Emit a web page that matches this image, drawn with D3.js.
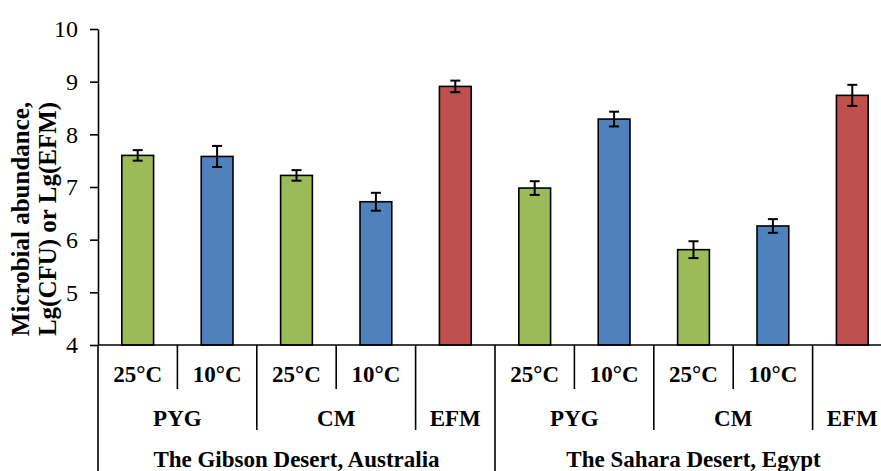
<!DOCTYPE html>
<html>
<head>
<meta charset="utf-8">
<script src="https://cdn.jsdelivr.net/npm/d3@7"></script>
<style>
  body { margin: 0; background: #fff; }
  svg text { font-family: "Liberation Serif", "Times New Roman", serif; }
</style>
</head>
<body>
<script>
// data
var deserts = ["The Gibson Desert, Australia", "The Gibson Desert, Australia", "The Gibson Desert, Australia", "The Gibson Desert, Australia", "The Gibson Desert, Australia",
               "The Sahara Desert, Egypt", "The Sahara Desert, Egypt", "The Sahara Desert, Egypt", "The Sahara Desert, Egypt", "The Sahara Desert, Egypt"];
var media = ["PYG", "PYG", "CM", "CM", "EFM", "PYG", "PYG", "CM", "CM", "EFM"];
var temps = ["25°C", "10°C", "25°C", "10°C", "", "25°C", "10°C", "25°C", "10°C", ""];
var values = [7.60, 7.58, 7.22, 6.72, 8.91, 6.98, 8.29, 5.81, 6.26, 8.74];
var errors = [0.10, 0.20, 0.10, 0.17, 0.11, 0.13, 0.14, 0.16, 0.13, 0.20];
var yTicks = [4, 5, 6, 7, 8, 9, 10];

var width = 881, height = 471;
var plotLeft = 98, plotRight = 892, plotTop = 29, plotBase = 345;

var color = function(i) {
  if (media[i] === "EFM") return "#C0504D";
  return temps[i] === "25°C" ? "#9BBB59" : "#4F81BD";
};

var x = d3.scaleBand()
    .domain(d3.range(values.length))
    .range([plotLeft, plotRight]);

var y = d3.scaleLinear()
    .domain([4, 10])
    .range([plotBase, plotTop]);

var svg = d3.select("body").append("svg")
    .attr("width", width)
    .attr("height", height);

// bars
var barW = x.bandwidth() * 0.4;
svg.append("g").selectAll("rect")
    .data(values)
  .enter().append("rect")
    .attr("x", function(d, i) { return x(i) + x.bandwidth() / 2 - barW / 2; })
    .attr("y", function(d) { return y(d); })
    .attr("width", barW)
    .attr("height", function(d) { return y(4) - y(d); })
    .attr("fill", function(d, i) { return color(i); })
    .attr("stroke", "#000")
    .attr("stroke-width", 1.6);

// error bars
var eb = svg.append("g").attr("stroke", "#000").attr("stroke-width", 2);
values.forEach(function(v, i) {
  var cx = x(i) + x.bandwidth() / 2;
  eb.append("line").attr("x1", cx).attr("x2", cx).attr("y1", y(v + errors[i])).attr("y2", y(v - errors[i]));
  eb.append("line").attr("x1", cx - 5).attr("x2", cx + 5).attr("y1", y(v + errors[i])).attr("y2", y(v + errors[i]));
  eb.append("line").attr("x1", cx - 5).attr("x2", cx + 5).attr("y1", y(v - errors[i])).attr("y2", y(v - errors[i]));
});

// y axis
var yAxis = d3.axisLeft(y)
    .tickValues(yTicks)
    .tickFormat(d3.format("d"))
    .tickSize(8)
    .tickSizeOuter(0)
    .tickPadding(12);

var ya = svg.append("g")
    .attr("transform", "translate(" + plotLeft + ",0)")
    .call(yAxis);
ya.select(".domain").attr("stroke", "#000").attr("stroke-width", 1.6);
ya.selectAll(".tick line").attr("stroke", "#000").attr("stroke-width", 1.6);
ya.selectAll(".tick text")
    .attr("font-size", 24)
    .attr("font-family", "Liberation Serif")
    .attr("fill", "#000");

// category axis line and y axis extension
var ax = svg.append("g").attr("stroke", "#000").attr("stroke-width", 1.6);
ax.append("line").attr("x1", plotLeft).attr("x2", width).attr("y1", plotBase).attr("y2", plotBase);
ax.append("line").attr("x1", plotLeft).attr("x2", plotLeft).attr("y1", plotBase).attr("y2", height);

// separators between categories
for (var i = 1; i < values.length; i++) {
  var bx = x(i);
  var y2 = 389;
  if (deserts[i] !== deserts[i - 1]) y2 = height;
  else if (media[i] !== media[i - 1]) y2 = 430;
  ax.append("line").attr("x1", bx).attr("x2", bx).attr("y1", plotBase).attr("y2", y2);
}

// labels
var lab = svg.append("g")
    .attr("font-weight", "bold")
    .attr("font-size", 23)
    .attr("text-anchor", "middle")
    .attr("fill", "#000");

temps.forEach(function(t, i) {
  if (!t) return;
  lab.append("text")
      .attr("x", x(i) + x.bandwidth() / 2)
      .attr("y", 382)
      .text(t);
});

function spans(arr) {
  var out = [];
  arr.forEach(function(a, i) {
    var key = deserts[i] + "|" + a;
    if (out.length && out[out.length - 1].key === key) out[out.length - 1].end = i;
    else out.push({key: key, label: a, start: i, end: i});
  });
  return out;
}

spans(media).forEach(function(s) {
  lab.append("text")
      .attr("x", (x(s.start) + x(s.end) + x.bandwidth()) / 2)
      .attr("y", 426)
      .text(s.label);
});

spans(deserts).forEach(function(s) {
  lab.append("text")
      .attr("x", (x(s.start) + x(s.end) + x.bandwidth()) / 2)
      .attr("y", 467)
      .text(s.label);
});

// y title
var title = svg.append("text")
    .attr("transform", "translate(0,219) rotate(-90)")
    .attr("text-anchor", "middle")
    .attr("font-weight", "bold")
    .attr("font-size", 25)
    .attr("fill", "#000");
title.append("tspan").attr("x", 0).attr("y", 29).text("Microbial abundance,");
title.append("tspan").attr("x", 0).attr("y", 56).text("Lg(CFU) or Lg(EFM)");
</script>
</body>
</html>
